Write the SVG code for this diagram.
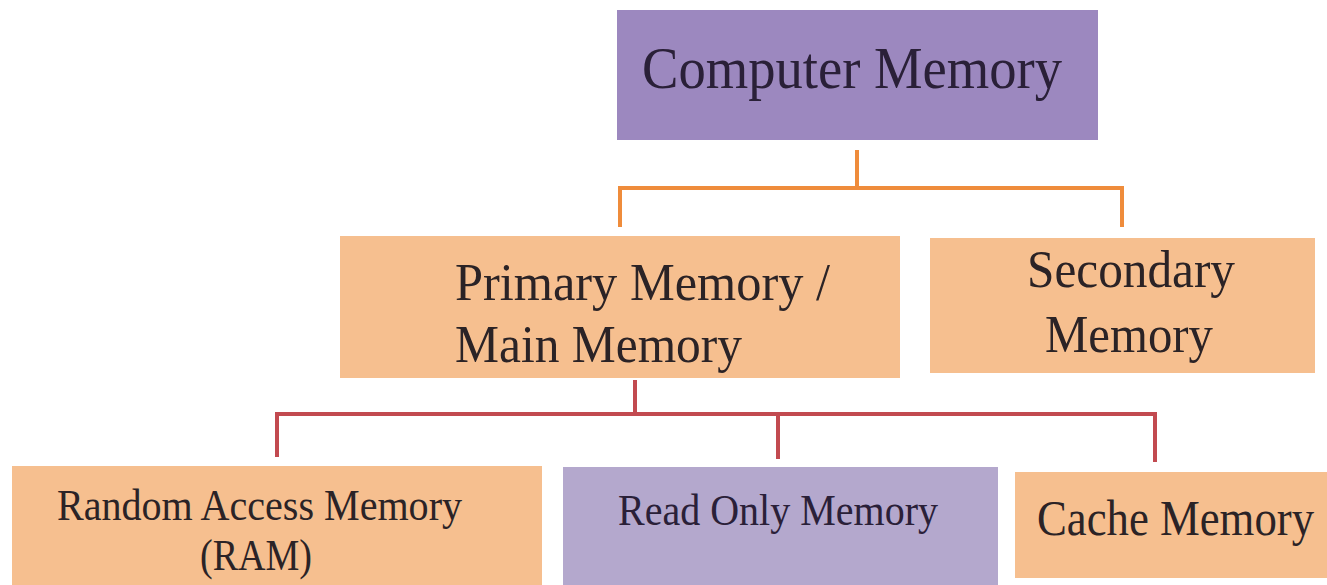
<svg xmlns="http://www.w3.org/2000/svg" width="1327" height="585" viewBox="0 0 1327 585">
<style>
text{font-family:'Liberation Serif',serif;fill:#2b2326}
.tp{fill:#2a2038}
.org{fill:#f6bf8f}
.pur{fill:#9c88bf}
.pur2{fill:#b4a8cd}
.c1{fill:none;stroke:#ef8c3b;stroke-width:4}
.c2{fill:none;stroke:#c24a50;stroke-width:4}
</style>
<rect width="1327" height="585" fill="#ffffff"/>
<g id="connectors">
<path class="c1" d="M857 150V188M620 227V188H1122V227"/>
<path class="c2" d="M635 380V414M277 457V414H1155V462M778 414V459"/>
</g>
<g id="computer-memory">
<rect class="pur" x="617" y="10" width="481" height="130"/>
<text class="tp" x="642" y="88" font-size="60" textLength="420" lengthAdjust="spacingAndGlyphs">Computer Memory</text>
</g>
<g id="primary-memory">
<rect class="org" x="340" y="236" width="560" height="142"/>
<text x="455" y="300" font-size="53" textLength="375" lengthAdjust="spacingAndGlyphs">Primary Memory /</text>
<text x="455" y="362" font-size="53" textLength="287" lengthAdjust="spacingAndGlyphs">Main Memory</text>
</g>
<g id="secondary-memory">
<rect class="org" x="930" y="238" width="385" height="135"/>
<text x="1027" y="287" font-size="53" textLength="208" lengthAdjust="spacingAndGlyphs">Secondary</text>
<text x="1045" y="352" font-size="53" textLength="168" lengthAdjust="spacingAndGlyphs">Memory</text>
</g>
<g id="ram">
<rect class="org" x="12" y="466" width="530" height="119"/>
<text x="57" y="520" font-size="45" textLength="405" lengthAdjust="spacingAndGlyphs">Random Access Memory</text>
<text x="200" y="570" font-size="45" textLength="112" lengthAdjust="spacingAndGlyphs">(RAM)</text>
</g>
<g id="rom">
<rect class="pur2" x="563" y="467" width="435" height="118"/>
<text class="tp" x="618" y="525" font-size="45" textLength="320" lengthAdjust="spacingAndGlyphs">Read Only Memory</text>
</g>
<g id="cache">
<rect class="org" x="1015" y="472" width="312" height="106"/>
<text transform="translate(1037,535) scale(0.895,1)" x="0" y="0" font-size="50">Cache Memory</text>
</g>
</svg>
